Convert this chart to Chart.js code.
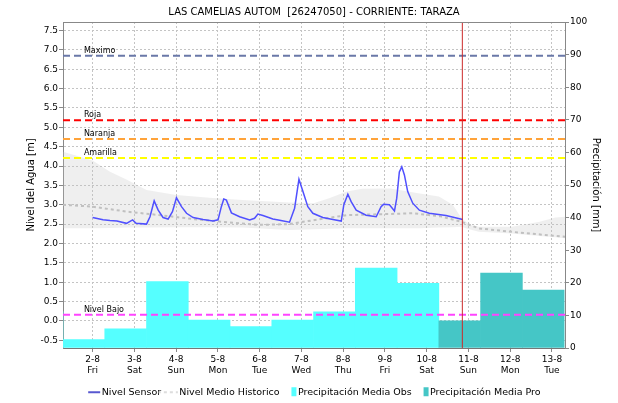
<!DOCTYPE html>
<html>
<head>
<meta charset="utf-8">
<script src="https://cdn.jsdelivr.net/npm/chart.js@4.4.1/dist/chart.umd.min.js"></script>
<style>
  html, body { margin: 0; padding: 0; background: #fff; }
</style>
</head>
<body>
<canvas id="chart" width="618" height="403"></canvas>
<script>
// all times are hours counted from 2-8 00:00
var dayLabels = ["2-8", "3-8", "4-8", "5-8", "6-8", "7-8", "8-8", "9-8", "10-8", "11-8", "12-8", "13-8"];
var weekDays = ["Fri", "Sat", "Sun", "Mon", "Tue", "Wed", "Thu", "Fri", "Sat", "Sun", "Mon", "Tue"];

// Nivel Sensor [m]
var sensorHours = [0, 6, 10, 14, 19.5, 23, 25, 31, 33, 35.4, 37.7, 40.5, 43.4, 45.9, 48.2, 51.1, 54, 57.8,
  63.5, 69.2, 72.1, 74, 75.4, 76.9, 79.8, 84.5, 90.3, 93.1, 95, 97.9, 103.6, 107.5, 113.2, 116.1, 118.6,
  120.9, 123.7, 126.6, 132.3, 138.1, 142.9, 144.4, 146.7, 148.6, 151.5, 157.2, 163, 165.8, 167.2, 170.6,
  173.5, 174.8, 176.3, 177.7, 179.2, 181.1, 184, 187.8, 193.5, 203.1, 212.7];
var sensorLevel = [2.67, 2.61, 2.59, 2.58, 2.52, 2.61, 2.52, 2.50, 2.69, 3.10, 2.86, 2.67, 2.63, 2.82, 3.18, 2.95, 2.78, 2.67,
  2.62, 2.58, 2.61, 2.95, 3.15, 3.12, 2.79, 2.69, 2.61, 2.65, 2.76, 2.72, 2.63, 2.60, 2.55, 2.91, 3.66,
  3.34, 2.95, 2.78, 2.67, 2.62, 2.58, 3.00, 3.27, 3.08, 2.86, 2.73, 2.69, 2.95, 3.01, 3.00,
  2.84, 3.17, 3.85, 3.98, 3.77, 3.34, 3.04, 2.86, 2.78, 2.72, 2.62];

// Nivel Medio Historico [m]
var meanHours = [-17, 0, 20, 39, 58, 77, 96, 113, 121, 146, 184, 200, 212, 222, 241, 272];
var meanLevel = [3.00, 2.95, 2.82, 2.73, 2.63, 2.55, 2.48, 2.50, 2.56, 2.73, 2.78, 2.70, 2.56, 2.39, 2.30, 2.17];

// historic range band [m]
var bandHours = [-17, 0, 10, 20, 31, 48, 67, 86, 113, 127, 136, 146, 155, 171, 188, 199, 207, 212, 217, 222, 241, 257, 266, 272];
var bandUpper = [4.37, 4.14, 3.85, 3.64, 3.38, 3.25, 3.18, 3.12, 3.06, 3.04, 3.17, 3.34, 3.41, 3.42, 3.29, 3.21, 3.00, 2.65, 2.48, 2.43, 2.43, 2.56, 2.67, 2.69];
var bandLower = [2.39, 2.39, 2.40, 2.41, 2.41, 2.42, 2.42, 2.41, 2.35, 2.37, 2.38, 2.39, 2.39, 2.39, 2.39, 2.41, 2.42, 2.43, 2.36, 2.30, 2.26, 2.19, 2.16, 2.13];

// daily rain [mm], days start at 07:00
var obsStart = [-41, -17, 7, 31, 55, 79, 103, 127, 151, 175];
var obsRain = [11.2, 2.6, 5.9, 20.4, 8.6, 6.6, 8.6, 11.1, 24.5, 19.8];
var proStart = [199, 223, 247];
var proRain = [8.3, 23.0, 17.8];

// alert levels [m]
var levelNames = ["Maximo", "Roja", "Naranja", "Amarilla", "Nivel Bajo"];
var levelValues = [6.85, 5.18, 4.70, 4.21, 0.16];
var levelColors = ["#6a78a8", "#ff0000", "#ffa33a", "#ffff00", "#ff44ff"];

var nowHour = 212.5;
var xMin = -17, xMax = 271.5;
var yMin = -0.7, yMax = 7.72;

var legendNames = ["Nivel Sensor", "Nivel Medio Historico", "Precipitación Media Obs", "Precipitación Media Pro"];

Chart.defaults.font.family = "'DejaVu Sans', sans-serif";
Chart.defaults.color = "#333";

function pairs(xs, ys) {
  return xs.map(function(x, i) { return {x: x, y: ys[i]}; });
}

//small canvases used as legend markers
function mark(draw) {
  var c = document.createElement("canvas");
  c.width = 40; c.height = 12;
  draw(c.getContext("2d"));
  return c;
}
var legendMarks = [
  mark(function(g) { g.strokeStyle = "#2020c0"; g.lineWidth = 1.5; g.beginPath(); g.moveTo(16, 6); g.lineTo(28, 6); g.stroke(); }),
  mark(function(g) { g.strokeStyle = "#bbbbbb"; g.lineWidth = 1; g.setLineDash([3, 3]); g.beginPath(); g.moveTo(8, 6); g.lineTo(28, 6); g.stroke(); }),
  mark(function(g) { g.fillStyle = "#55ffff"; g.fillRect(23, 1, 5, 9); }),
  mark(function(g) { g.fillStyle = "#45c6c6"; g.fillRect(23, 1, 5, 9); })
];

var datasets = [];

datasets.push({
  label: "now", data: [{x: nowHour, y: yMin}, {x: nowHour, y: yMax}],
  borderColor: "#cc2a2a", borderWidth: 1, pointRadius: 0, yAxisID: "y"
});

levelNames.forEach(function(name, i) {
  datasets.push({
    label: name, data: [{x: xMin, y: levelValues[i]}, {x: xMax, y: levelValues[i]}],
    borderColor: levelColors[i], borderWidth: 2, borderDash: [7, 4], pointRadius: 0, yAxisID: "y"
  });
});

datasets.push({
  label: "Nivel Sensor", data: pairs(sensorHours, sensorLevel),
  borderColor: "#5050ff", borderWidth: 1.5, pointRadius: 0, tension: 0, yAxisID: "y"
});
datasets.push({
  label: "Nivel Medio Historico", data: pairs(meanHours, meanLevel),
  borderColor: "#c0c0c0", borderWidth: 2, borderDash: [3, 3], pointRadius: 0, yAxisID: "y"
});
datasets.push({
  label: "upper", data: pairs(bandHours, bandUpper),
  borderWidth: 0, pointRadius: 0, fill: "+1", backgroundColor: "rgba(190,190,190,0.25)", yAxisID: "y"
});
datasets.push({
  label: "lower", data: pairs(bandHours, bandLower),
  borderWidth: 0, pointRadius: 0, fill: false, yAxisID: "y"
});
datasets.push({
  type: "bar", label: "Precipitación Media Pro",
  data: pairs(proStart.map(function(h) { return h + 12; }), proRain),
  backgroundColor: "#45c6c6", borderWidth: 0, barPercentage: 1, categoryPercentage: 1, grouped: false, yAxisID: "y2"
});
datasets.push({
  type: "bar", label: "Precipitación Media Obs",
  data: pairs(obsStart.map(function(h) { return h + 12; }), obsRain),
  backgroundColor: "#55ffff", borderWidth: 0, barPercentage: 1, categoryPercentage: 1, grouped: false, yAxisID: "y2"
});

var levelLabels = {
  id: "levelLabels",
  afterDatasetsDraw: function(chart) {
    var ctx = chart.ctx, xs = chart.scales.x, ys = chart.scales.y, a = chart.chartArea;
    ctx.save();
    ctx.font = "8px 'DejaVu Sans'";
    ctx.fillStyle = "#000";
    ctx.textBaseline = "bottom";
    levelNames.forEach(function(name, i) {
      ctx.fillText(name, xs.getPixelForValue(-5), ys.getPixelForValue(levelValues[i]) - 1);
    });
    //top frame line
    ctx.strokeStyle = "#888";
    ctx.lineWidth = 1;
    ctx.beginPath();
    ctx.moveTo(a.left, Math.round(a.top) + 0.5);
    ctx.lineTo(a.right, Math.round(a.top) + 0.5);
    ctx.stroke();
    ctx.restore();
  }
};

new Chart(document.getElementById("chart"), {
  type: "line",
  data: {datasets: datasets},
  plugins: [levelLabels],
  options: {
    responsive: false,
    animation: false,
    layout: {padding: {left: 10, right: 0, top: 0, bottom: -4}},
    plugins: {
      title: {
        display: true,
        text: "LAS CAMELIAS AUTOM  [26247050] - CORRIENTE: TARAZA",
        color: "#000",
        font: {size: 10, weight: "normal"},
        padding: {top: 6, bottom: 4}
      },
      tooltip: {enabled: false},
      legend: {
        position: "bottom",
        labels: {
          usePointStyle: true,
          boxWidth: 10,
          boxHeight: 10,
          padding: 4,
          color: "#000",
          font: {size: 9.5},
          generateLabels: function() {
            return legendNames.map(function(name, i) {
              return {text: name, pointStyle: legendMarks[i], fillStyle: "rgba(0,0,0,0)", strokeStyle: "rgba(0,0,0,0)", lineWidth: 0, hidden: false};
            });
          }
        }
      }
    },
    scales: {
      x: {
        type: "linear",
        min: xMin, max: xMax,
        offset: false,
        afterBuildTicks: function(s) {
          s.ticks = dayLabels.map(function(d, i) { return {value: i * 24}; });
        },
        ticks: {
          autoSkip: false, maxRotation: 0, padding: 2,
          color: "#000", font: {size: 9},
          callback: function(v) {
            var i = Math.round(v / 24);
            return [dayLabels[i], weekDays[i]];
          }
        },
        grid: {offset: false, color: "#c4c4c4", tickColor: "#888", tickLength: 4},
        border: {color: "#777", dash: [2, 2]},
        afterFit: function(s) { s.height = 35.5; }
      },
      y: {
        position: "left",
        min: yMin, max: yMax,
        ticks: {
          stepSize: 0.5, includeBounds: false, padding: 1, color: "#000", font: {size: 9},
          callback: function(v) { return v.toFixed(1); }
        },
        grid: {color: "#c4c4c4", tickColor: "#888", tickLength: 4},
        border: {color: "#888", dash: [2, 2]},
        title: {display: true, text: "Nivel del Agua [m]", color: "#000", font: {size: 10}, padding: {top: 15, bottom: 0}},
        afterFit: function(s) { s.width = 53; }
      },
      y2: {
        position: "right",
        min: 0, max: 100,
        ticks: {stepSize: 10, padding: 1, color: "#000", font: {size: 9}},
        grid: {drawOnChartArea: false, tickColor: "#888", tickLength: 4},
        border: {color: "#888"},
        title: {display: true, text: "Precipitación [mm]", color: "#000", font: {size: 10}, padding: {top: 16, bottom: 0}},
        afterFit: function(s) { s.width = 53; }
      }
    }
  }
});
</script>
</body>
</html>
